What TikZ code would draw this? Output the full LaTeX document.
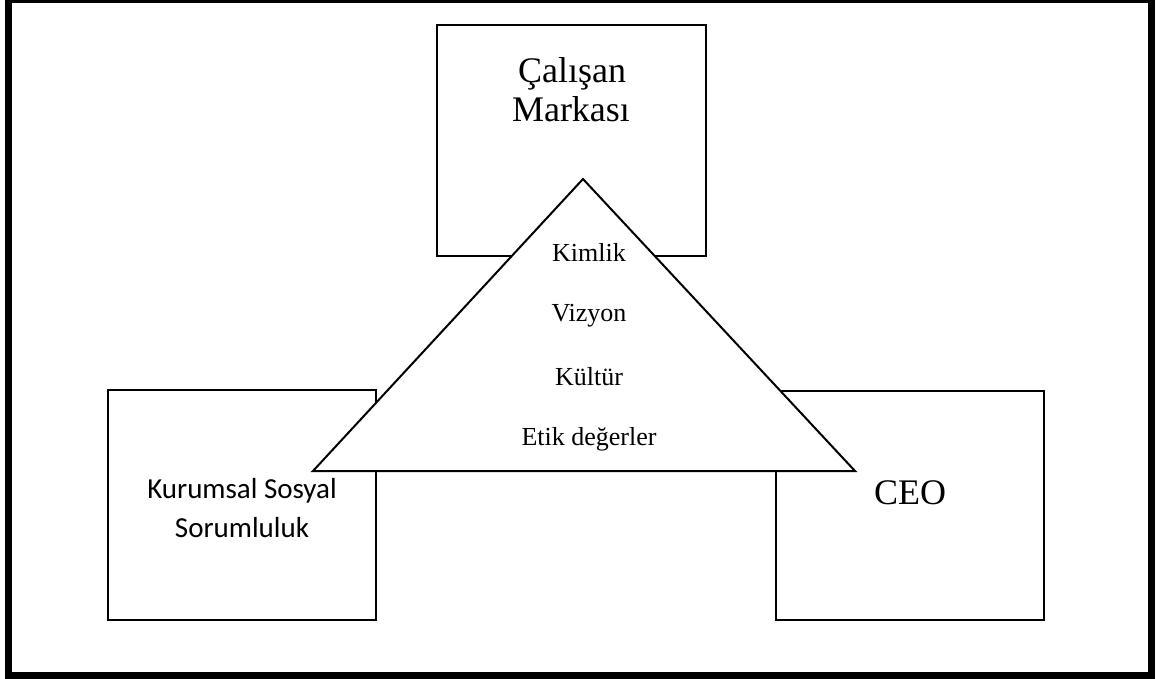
\documentclass[tikz,border=0pt]{standalone}
\usepackage{fontspec}
\setmainfont{Liberation Serif}
\newfontfamily\calibrilike{Carlito}
\begin{document}
\begin{tikzpicture}[x=1pt,y=-1pt,
  box/.style={draw, line width=2pt, fill=white, inner sep=0pt},
  bigtxt/.style={anchor=base, inner sep=0pt, font=\fontsize{36}{39}\selectfont},
  midtxt/.style={anchor=base, inner sep=0pt, font=\fontsize{26}{30}\selectfont},
  sanstxt/.style={anchor=base, inner sep=0pt, font=\calibrilike\fontsize{29}{39}\selectfont}]
  \useasboundingbox (0,0) rectangle (1163,679);
  % outer frame
  \draw[line width=7pt] (8.5,-0.5) rectangle (1151.5,675);
  % the three boxes
  \node[box, minimum width=269pt, minimum height=231pt] (marka) at (571.5,140.5) {};
  \node[box, minimum width=268pt, minimum height=230pt] (kss) at (242,505) {};
  \node[box, minimum width=268pt, minimum height=229pt] (ceo) at (910,505) {};
  % central triangle over the boxes
  \coordinate (tl) at (313,471);
  \coordinate (tr) at (855,471);
  \coordinate (tt) at (583,179);
  \draw[line width=2pt, fill=white, line join=miter] (tl) -- (tr) -- (tt) -- cycle;
  % labels
  \node[bigtxt] (m1) at (572,83) {Çalışan};
  \node[bigtxt] (m2) at (571,122) {Markası};
  \node[sanstxt] (k1) at (242,498) {Kurumsal Sosyal};
  \node[sanstxt] (k2) at (242,537) {Sorumluluk};
  \node[bigtxt] (c1) at (910,504) {CEO};
  \node[midtxt] (t1) at (589,262) {Kimlik};
  \node[midtxt] (t2) at (589,322) {Vizyon};
  \node[midtxt] (t3) at (589,385) {Kültür};
  \node[midtxt] (t4) at (589,445) {Etik değerler};
\end{tikzpicture}
\end{document}
